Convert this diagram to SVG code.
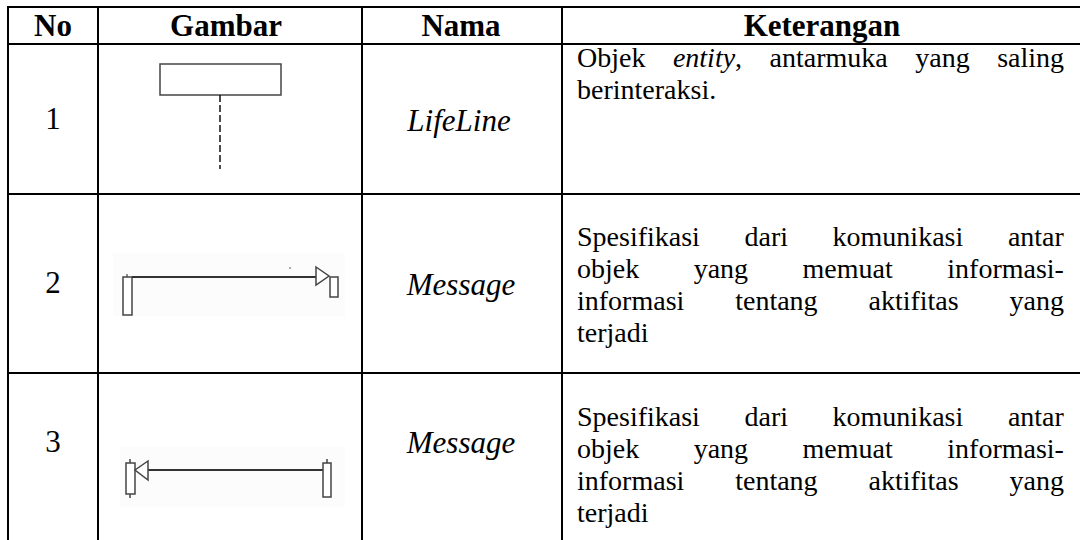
<svg xmlns="http://www.w3.org/2000/svg" width="1080" height="540" viewBox="0 0 1080 540">
<style>
.grid{stroke:#000;stroke-width:2;fill:none}
.h{font-family:"Liberation Serif","Times New Roman",serif;font-size:31px;font-weight:bold;fill:#000;text-anchor:middle}
.t{font-family:"Liberation Serif","Times New Roman",serif;font-size:28px;fill:#000}
.n{font-family:"Liberation Serif","Times New Roman",serif;font-size:31px;fill:#000;text-anchor:middle}
.i{font-style:italic}
.ic{stroke:#444;stroke-width:1.5;fill:#fff}
.ln{stroke:#333;stroke-width:2;fill:none}
.bg{fill:#fcfcfc;stroke:none}
</style>
<rect width="1080" height="540" fill="#fff"/>
<g id="grid" class="grid">
<line x1="8" y1="7" x2="1080" y2="7"/>
<line x1="8" y1="44" x2="1080" y2="44"/>
<line x1="8" y1="194" x2="1080" y2="194"/>
<line x1="8" y1="373" x2="1080" y2="373"/>
<line x1="8" y1="6" x2="8" y2="540"/>
<line x1="98" y1="6" x2="98" y2="540"/>
<line x1="362" y1="6" x2="362" y2="540"/>
<line x1="562" y1="6" x2="562" y2="540"/>
</g>
<g id="header">
<text class="h" x="53" y="36">No</text>
<text class="h" x="226" y="36">Gambar</text>
<text class="h" x="461" y="36">Nama</text>
<text class="h" x="822" y="36">Keterangan</text>
</g>
<g id="row1">
<text class="n" x="53" y="129">1</text>
<g id="lifeline-icon">
<rect class="ic" x="160" y="64" width="121" height="31"/>
<line x1="220" y1="95" x2="220" y2="169" stroke="#111" stroke-width="1.5" stroke-dasharray="7,3"/>
</g>
<text class="n i" x="459" y="131">LifeLine</text>
<text class="t" y="67"><tspan x="577">Objek</tspan><tspan x="672.9" font-style="italic">entity</tspan><tspan>,</tspan><tspan x="769.6">antarmuka</tspan><tspan x="915.3">yang</tspan><tspan x="997.2">saling</tspan></text>
<text class="t" x="577" y="99">berinteraksi.</text>
</g>
<g id="row2">
<text class="n" x="53" y="293">2</text>
<g id="message-icon-1">
<rect class="bg" x="113" y="253" width="232" height="63"/>
<rect class="ic" x="123" y="277" width="9" height="38"/>
<line x1="127" y1="274" x2="127" y2="277" stroke="#444" stroke-width="1.2"/>
<line class="ln" x1="132" y1="277" x2="316" y2="277"/>
<polygon class="ic" points="316,267 329,276 316,285"/>
<rect class="ic" x="330" y="277" width="8" height="20"/>
<circle cx="290" cy="268" r="0.9" fill="#888"/>
</g>
<text class="n i" x="461" y="295">Message</text>
<text class="t" y="246"><tspan x="577">Spesifikasi</tspan><tspan x="744.5">dari</tspan><tspan x="832.6">komunikasi</tspan><tspan x="1007.9">antar</tspan></text>
<text class="t" y="278"><tspan x="577">objek</tspan><tspan x="693.7">yang</tspan><tspan x="802.6">memuat</tspan><tspan x="947.3">informasi-</tspan></text>
<text class="t" y="310"><tspan x="577">informasi</tspan><tspan x="735.2">tentang</tspan><tspan x="868.5">aktifitas</tspan><tspan x="1009.6">yang</tspan></text>
<text class="t" x="577" y="342">terjadi</text>
</g>
<g id="row3">
<text class="n" x="53" y="452">3</text>
<g id="message-icon-2">
<rect class="bg" x="120" y="447" width="225" height="60"/>
<line x1="130" y1="459" x2="130" y2="498" stroke="#444" stroke-width="1.5"/>
<rect class="ic" x="126" y="463" width="9" height="31"/>
<line class="ln" x1="148" y1="470" x2="323" y2="470"/>
<polygon class="ic" points="148,461 135,470 148,480"/>
<line x1="327" y1="459" x2="327" y2="463" stroke="#444" stroke-width="1.5"/>
<rect class="ic" x="323" y="463" width="8" height="34"/>
</g>
<text class="n i" x="461" y="453">Message</text>
<text class="t" y="426"><tspan x="577">Spesifikasi</tspan><tspan x="744.5">dari</tspan><tspan x="832.6">komunikasi</tspan><tspan x="1007.9">antar</tspan></text>
<text class="t" y="458"><tspan x="577">objek</tspan><tspan x="693.7">yang</tspan><tspan x="802.6">memuat</tspan><tspan x="947.3">informasi-</tspan></text>
<text class="t" y="490"><tspan x="577">informasi</tspan><tspan x="735.2">tentang</tspan><tspan x="868.5">aktifitas</tspan><tspan x="1009.6">yang</tspan></text>
<text class="t" x="577" y="522">terjadi</text>
</g>
</svg>
